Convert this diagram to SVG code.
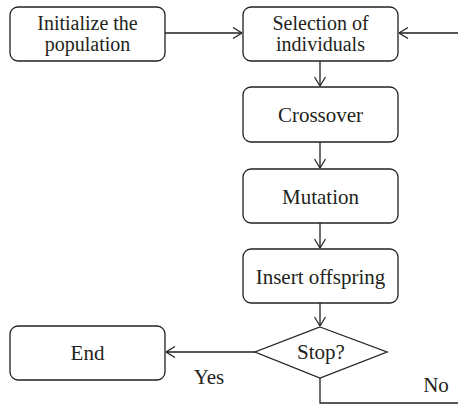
<svg xmlns="http://www.w3.org/2000/svg" width="458" height="404" viewBox="0 0 458 404">
<defs>
<marker id="arr" viewBox="0 0 10 12" refX="10" refY="6" markerWidth="10" markerHeight="12" markerUnits="userSpaceOnUse" orient="auto">
<path d="M1,0.5 L10,6 L1,11.5" fill="none" stroke="#231f20" stroke-width="1.2"/>
</marker>
</defs>
<style>
.box{fill:#fff;stroke:#231f20;stroke-width:1.3}
.t{font-family:"Liberation Serif","Times New Roman",serif;font-size:21px;fill:#231f20;text-anchor:middle}
.t2{font-size:20px}
.c{fill:none;stroke:#231f20;stroke-width:1.3}
</style>
<g id="connectors">
<path class="c" d="M165,33 H242" marker-end="url(#arr)"/>
<path class="c" d="M458,33 H399" marker-end="url(#arr)"/>
<path class="c" d="M320,61 V86" marker-end="url(#arr)"/>
<path class="c" d="M320,142 V168" marker-end="url(#arr)"/>
<path class="c" d="M320,223 V248" marker-end="url(#arr)"/>
<path class="c" d="M320,303 V326" marker-end="url(#arr)"/>
<path class="c" d="M255,352 H166" marker-end="url(#arr)"/>
<path class="c" d="M320,378 V403 H458"/>
<text class="t" x="209" y="384">Yes</text>
<text class="t" x="436" y="392">No</text>
</g>
<g id="init">
<rect class="box" x="10" y="7" width="155" height="54" rx="8"/>
<text class="t t2" x="87.5" y="29.5">Initialize the</text>
<text class="t t2" x="87.5" y="51">population</text>
</g>
<g id="selection">
<rect class="box" x="243" y="7" width="155" height="54" rx="8"/>
<text class="t t2" x="320.5" y="29.5">Selection of</text>
<text class="t t2" x="320.5" y="51">individuals</text>
</g>
<g id="crossover">
<rect class="box" x="243" y="87" width="155" height="55" rx="8"/>
<text class="t" x="320.5" y="121.5">Crossover</text>
</g>
<g id="mutation">
<rect class="box" x="243" y="169" width="155" height="54" rx="8"/>
<text class="t" x="320.5" y="203.5">Mutation</text>
</g>
<g id="insert">
<rect class="box" x="243" y="249" width="155" height="54" rx="8"/>
<text class="t" x="320.5" y="283.5">Insert offspring</text>
</g>
<g id="stop">
<path class="box" d="M320,327 L387,352 L320,378 L255,352 Z"/>
<text class="t" x="321" y="359">Stop?</text>
</g>
<g id="end">
<rect class="box" x="10" y="326" width="155" height="54" rx="8"/>
<text class="t" x="87.5" y="359.5">End</text>
</g>
</svg>
